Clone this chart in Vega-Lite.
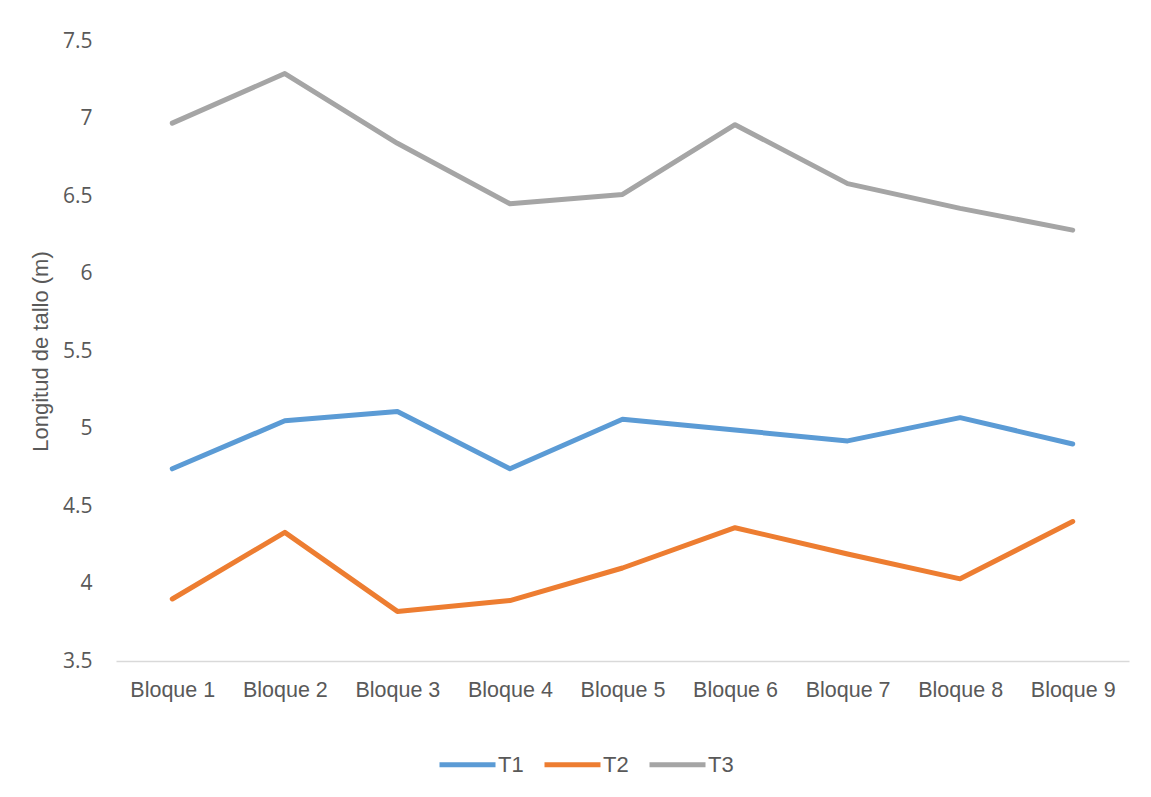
{
  "$schema": "https://vega.github.io/schema/vega-lite/v6.json",
  "width": 1013,
  "height": 620,
  "autosize": {"type": "none"},
  "padding": {"left": 116, "top": 41, "right": 22, "bottom": 136},
  "background": "#ffffff",
  "data": {
    "values": [
      {"bloque": "Bloque 1", "serie": "T1", "longitud": 4.74},
      {"bloque": "Bloque 2", "serie": "T1", "longitud": 5.05},
      {"bloque": "Bloque 3", "serie": "T1", "longitud": 5.11},
      {"bloque": "Bloque 4", "serie": "T1", "longitud": 4.74},
      {"bloque": "Bloque 5", "serie": "T1", "longitud": 5.06},
      {"bloque": "Bloque 6", "serie": "T1", "longitud": 4.99},
      {"bloque": "Bloque 7", "serie": "T1", "longitud": 4.92},
      {"bloque": "Bloque 8", "serie": "T1", "longitud": 5.07},
      {"bloque": "Bloque 9", "serie": "T1", "longitud": 4.90},
      {"bloque": "Bloque 1", "serie": "T2", "longitud": 3.90},
      {"bloque": "Bloque 2", "serie": "T2", "longitud": 4.33},
      {"bloque": "Bloque 3", "serie": "T2", "longitud": 3.82},
      {"bloque": "Bloque 4", "serie": "T2", "longitud": 3.89},
      {"bloque": "Bloque 5", "serie": "T2", "longitud": 4.10},
      {"bloque": "Bloque 6", "serie": "T2", "longitud": 4.36},
      {"bloque": "Bloque 7", "serie": "T2", "longitud": 4.19},
      {"bloque": "Bloque 8", "serie": "T2", "longitud": 4.03},
      {"bloque": "Bloque 9", "serie": "T2", "longitud": 4.40},
      {"bloque": "Bloque 1", "serie": "T3", "longitud": 6.97},
      {"bloque": "Bloque 2", "serie": "T3", "longitud": 7.29},
      {"bloque": "Bloque 3", "serie": "T3", "longitud": 6.84},
      {"bloque": "Bloque 4", "serie": "T3", "longitud": 6.45},
      {"bloque": "Bloque 5", "serie": "T3", "longitud": 6.51},
      {"bloque": "Bloque 6", "serie": "T3", "longitud": 6.96},
      {"bloque": "Bloque 7", "serie": "T3", "longitud": 6.58},
      {"bloque": "Bloque 8", "serie": "T3", "longitud": 6.42},
      {"bloque": "Bloque 9", "serie": "T3", "longitud": 6.28}
    ]
  },
  "mark": {"type": "line", "strokeWidth": 5, "strokeCap": "round", "strokeJoin": "round"},
  "encoding": {
    "x": {
      "field": "bloque",
      "type": "ordinal",
      "sort": null,
      "scale": {"type": "point", "padding": 0.5},
      "axis": {
        "title": null,
        "labelAngle": 0,
        "labelFont": "Liberation Sans",
        "labelFontSize": 21.5,
        "labelColor": "#595959",
        "labelPadding": 18,
        "ticks": false,
        "domainColor": "#D9D9D9",
        "domainWidth": 1.5,
        "grid": false
      }
    },
    "y": {
      "field": "longitud",
      "type": "quantitative",
      "scale": {"domain": [3.5, 7.5], "nice": false, "zero": false},
      "axis": {
        "title": "Longitud de tallo (m)",
        "titleFont": "Liberation Sans",
        "titleFontSize": 22,
        "titleFontWeight": "normal",
        "titleColor": "#595959",
        "titlePadding": 10,
        "values": [3.5, 4, 4.5, 5, 5.5, 6, 6.5, 7, 7.5],
        "format": ".1~f",
        "labelFont": "Open Sans",
        "labelFontSize": 21,
        "labelColor": "#595959",
        "labelPadding": 24,
        "ticks": false,
        "domain": false,
        "grid": false
      }
    },
    "color": {
      "field": "serie",
      "type": "nominal",
      "scale": {"domain": ["T1", "T2", "T3"], "range": ["#5B9BD5", "#ED7D31", "#A5A5A5"]},
      "legend": {
        "title": null,
        "orient": "none",
        "direction": "horizontal",
        "legendX": 321,
        "legendY": 693,
        "symbolType": "stroke",
        "symbolSize": 3136,
        "symbolStrokeWidth": 5,
        "labelFont": "Liberation Sans",
        "labelFontSize": 22,
        "labelColor": "#595959",
        "labelOffset": 0,
        "columnPadding": 10
      }
    }
  },
  "config": {"view": {"stroke": null}}
}
